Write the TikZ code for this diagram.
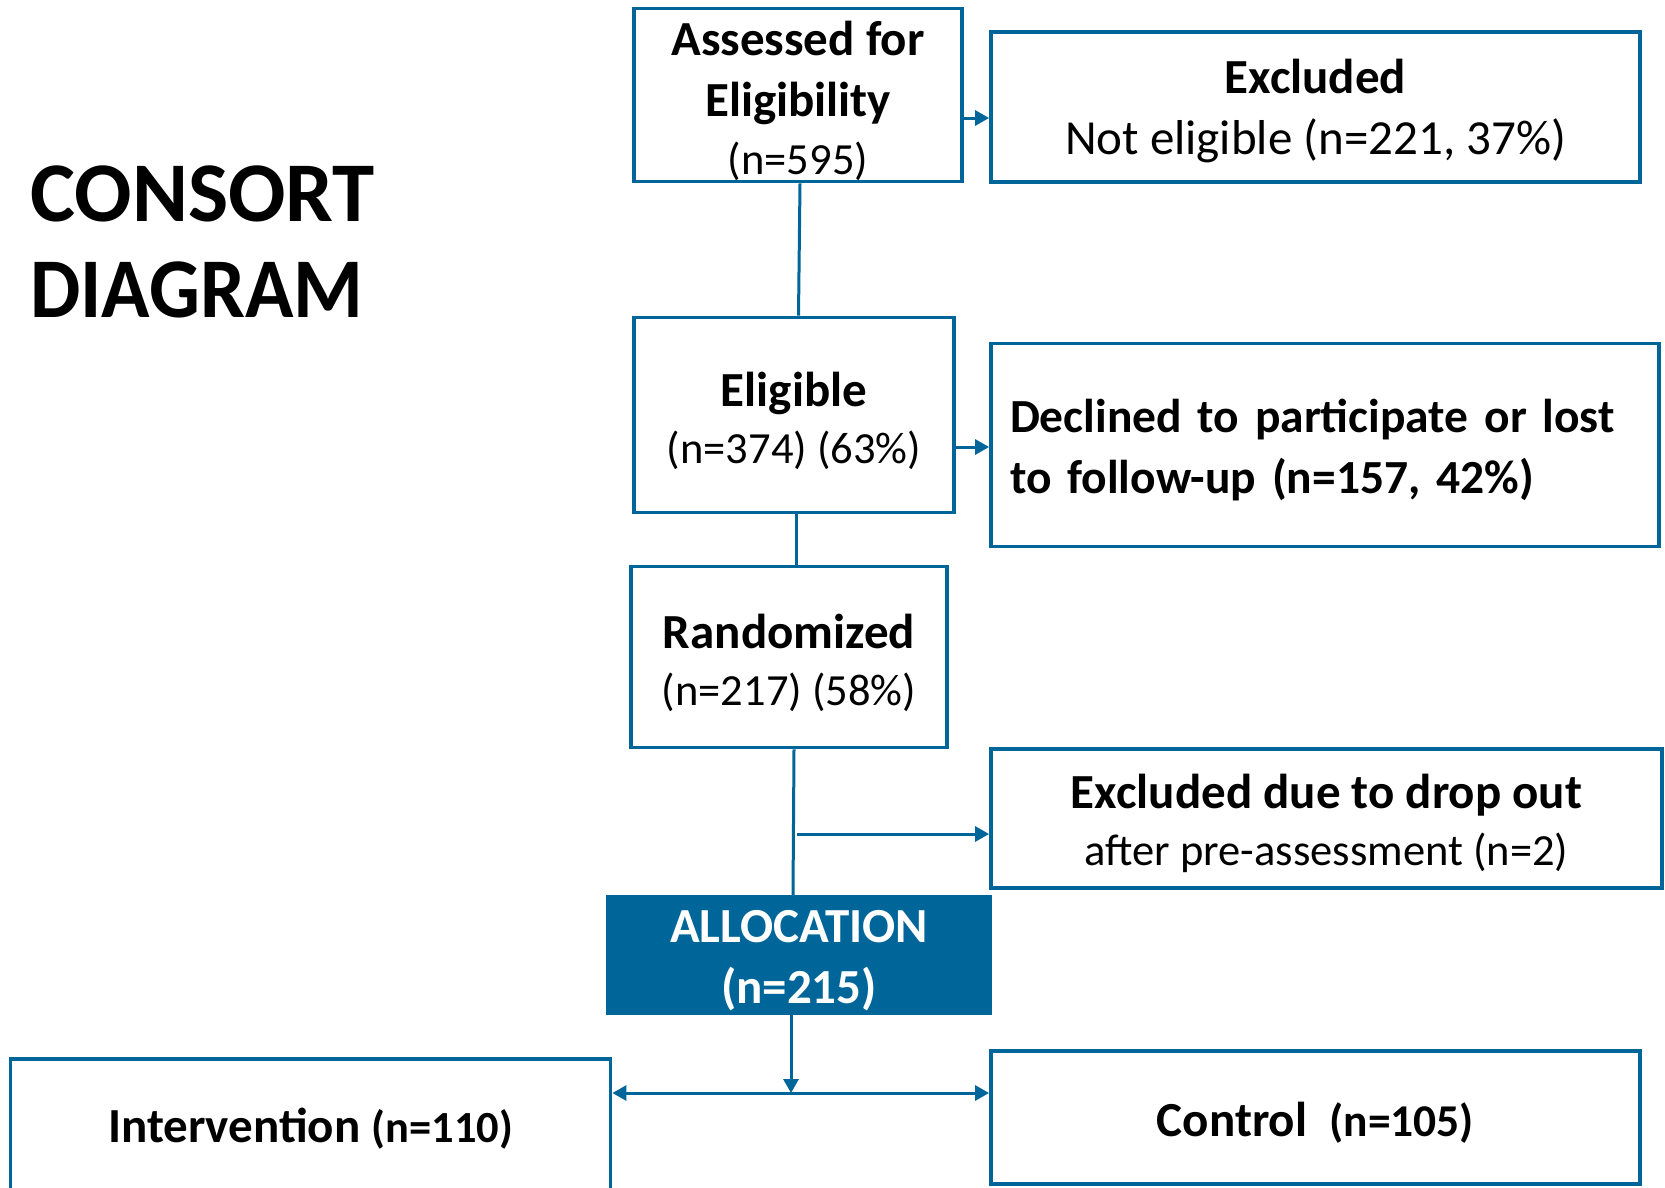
\documentclass[tikz,border=0pt]{standalone}
\usepackage{fontspec}
\setmainfont{Carlito}
\usetikzlibrary{arrows.meta}
\definecolor{cblue}{RGB}{0,102,153}
% smaller regular line inside a box
\newcommand{\sub}[1]{{\fontsize{44.5}{57}\selectfont #1}}
% invisible strut that sets the height of a box's first line
\newcommand{\lift}[1]{\rule{0pt}{#1}}
\begin{document}
\begin{tikzpicture}[x=1pt, y=-1pt,
  box/.style={draw=cblue, line width=3.8pt, inner sep=0pt, align=center,
    font=\fontsize{49}{61}\selectfont},
  link/.style={draw=cblue, line width=3pt},
  arr/.style={link, -{Triangle[length=14pt,width=15pt]}},
  dblarr/.style={link, {Triangle[length=14pt,width=15pt]}-{Triangle[length=14pt,width=15pt]}},
  title/.style={anchor=west, align=left, inner sep=0pt,
    font=\fontsize{85}{96}\selectfont\bfseries}]

\useasboundingbox (0,0) rectangle (1665,1187);

% title
\node[title] (heading) at (30,242) {CONSORT\\\scalebox{0.94}[1]{DIAGRAM}};

% flow boxes
\node[box, minimum width=328pt, minimum height=173pt] (assessed) at (798,95)
  {\lift{47pt}\bfseries Assessed for\\\bfseries Eligibility\\[-3pt]\sub{(n=595)}};
\node[box, minimum width=649pt, minimum height=150pt] (excluded) at (1315.5,107)
  {\lift{43pt}\bfseries Excluded\\Not eligible (n=221, 37\%)};
\node[box, minimum width=320pt, minimum height=195pt] (eligible) at (794,415)
  {\lift{47pt}\bfseries Eligible\\[-4pt]\sub{(n=374) (63\%)}};
\node[box, minimum height=203pt, text width=630pt, align=left, inner xsep=19pt,
  font=\fontsize{47.5}{61}\selectfont] (declined) at (1325,445)
  {\lift{43pt}\bfseries Declined to participate or lost\\\bfseries to follow-up (n=157, 42\%)};
\node[box, minimum width=316pt, minimum height=181pt] (randomized) at (789,657)
  {\lift{47pt}\bfseries Randomized\\[-4pt]\sub{(n=217) (58\%)}};
\node[box, minimum width=671pt, minimum height=139pt] (dropout) at (1326.5,818.5)
  {\lift{45pt}\bfseries Excluded due to drop out\\[-4pt]\sub{after pre-assessment (n=2)}};
\node[box, fill=cblue, text=white, minimum width=382pt, minimum height=116pt] (allocation) at (799,955)
  {\lift{44pt}\bfseries ALLOCATION\\\bfseries (n=215)};
\node[box, minimum width=600pt, minimum height=140pt] (intervention) at (310.5,1129)
  {\bfseries Intervention {\fontsize{44.5}{61}\selectfont (n=110)}};
\node[box, minimum width=649pt, minimum height=133pt] (control) at (1315.5,1117.5)
  {\lift{44pt}\bfseries Control\ \ {\fontsize{45.5}{61}\selectfont (n=105)}};

% connectors
\coordinate (split) at (797,834);
\coordinate (fork) at (791,1093);

\draw[link] (assessed.south -| 800,0) -- (eligible.north -| 798.5,0);
\draw[arr] (assessed.east |- 0,118) -- (excluded.west |- 0,118);
\draw[link] (eligible.south -| 796,0) -- (randomized.north -| 796,0);
\draw[arr] (eligible.east |- 0,447) -- (declined.west |- 0,447);
\draw[link] (randomized.south -| 794,0) -- (allocation.north -| 793,0);
\draw[arr] (split) -- (dropout.west |- split);
\draw[arr] (allocation.south -| fork) -- (fork);
\draw[dblarr] (intervention.east |- fork) -- (control.west |- fork);

\end{tikzpicture}
\end{document}
